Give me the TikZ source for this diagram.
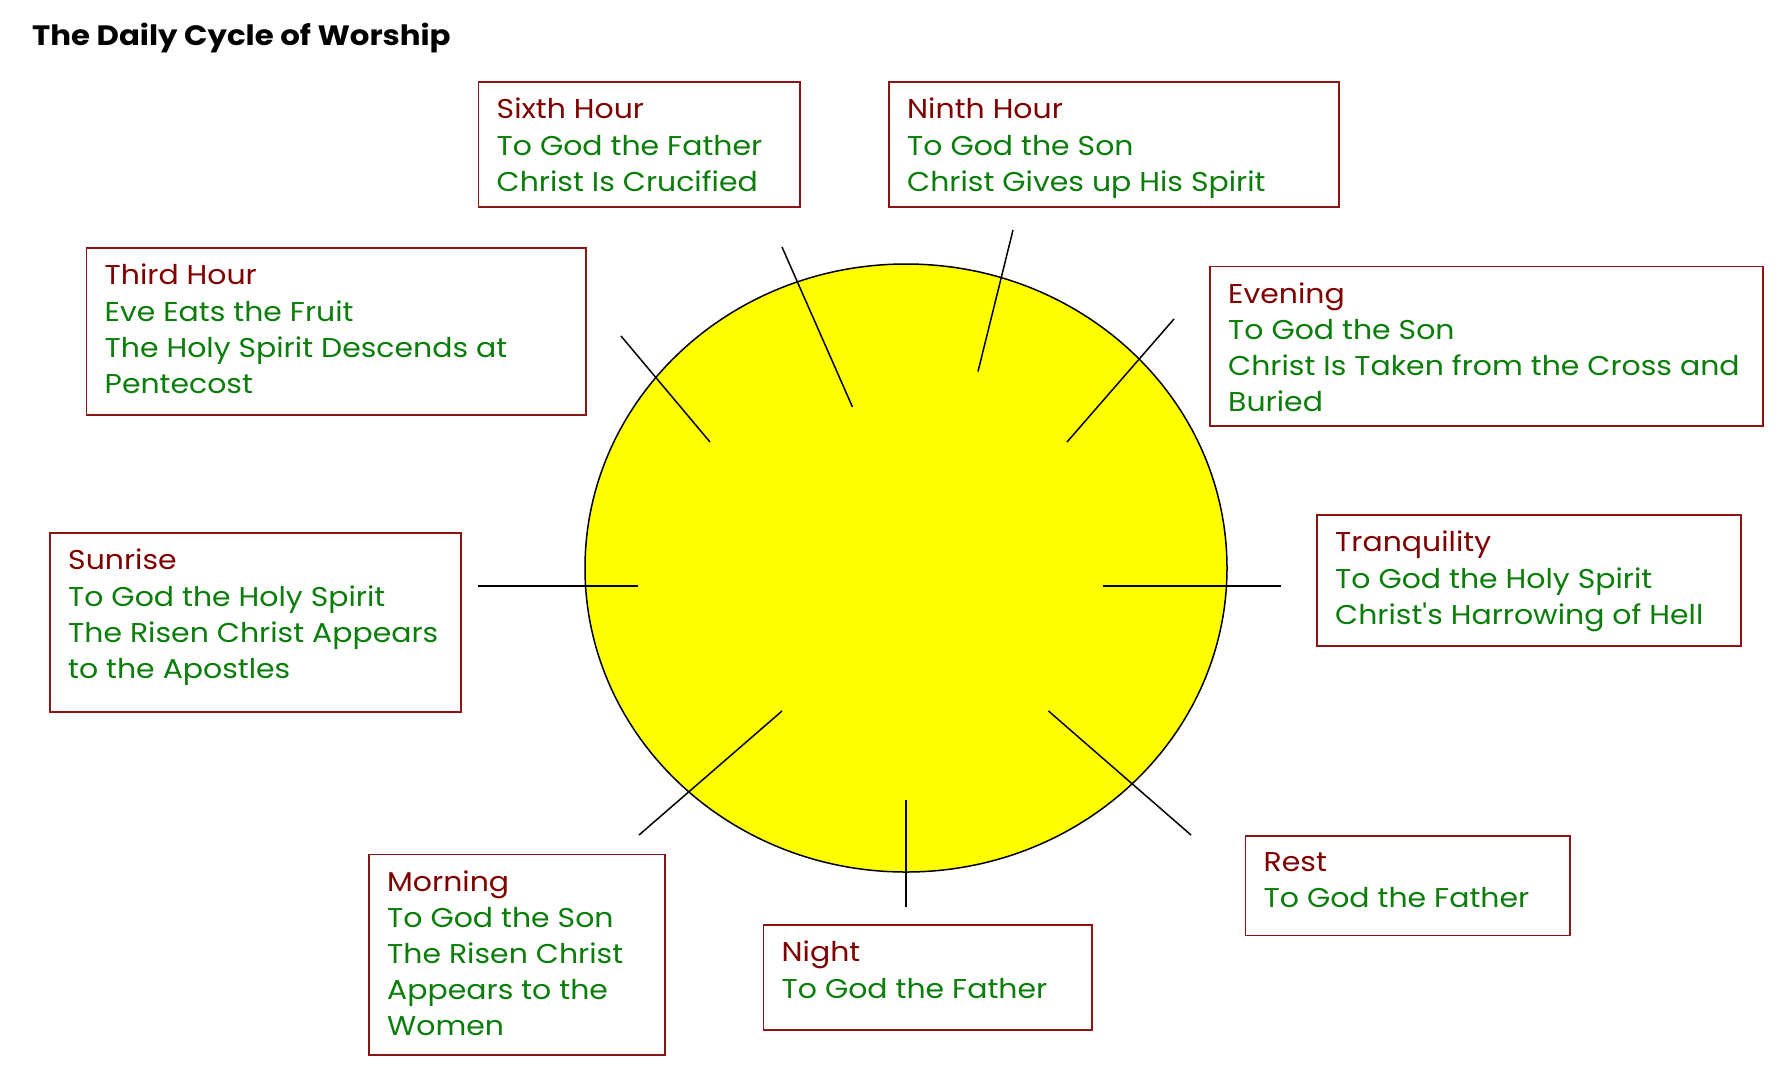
\documentclass[tikz,border=0pt]{standalone}
\usepackage{fontspec}
\usetikzlibrary{shapes.geometric}
\setmainfont{Poppins}[FakeStretch=1.1, Ligatures=TeXOff]
\definecolor{maroonT}{RGB}{128,0,0}
\definecolor{greenT}{RGB}{10,125,10}
\definecolor{boxline}{RGB}{140,20,20}
\definecolor{sunY}{RGB}{255,255,0}
\begin{document}
\begin{tikzpicture}[x=1pt,y=-1pt,
  box/.style={draw=boxline, line width=1.8pt, anchor=north west, inner sep=0pt},
  txt/.style={anchor=north west, inner sep=0pt, align=left, font=\fontsize{27.2}{36.1}\selectfont, text=greenT},
  tick/.style={draw=black, line width=1.5pt}]
\useasboundingbox (0,0) rectangle (1787,1072);
\fill[white] (0,0) rectangle (1787,1072);
\node[anchor=west, inner sep=0pt, font=\fontsize{28}{34}\selectfont\bfseries] (title) at (32,38) {The Daily Cycle of Worship};
% sun
\node[draw=black, line width=1.5pt, fill=sunY, ellipse, minimum width=642pt, minimum height=608pt, inner sep=0pt] (sun) at (906,568) {};
% boxes
\newcommand\tbox[6]{% name, x1,y1,x2,y2, text
  \node[box, minimum width=#4-#2, minimum height=#5-#3] (#1) at (#2,#3) {};
  \node[txt] (#1t) at (#2+19,#3+17) {#6};}
\tbox{sixth}{477.5}{81}{799}{206}{\textcolor{maroonT}{Sixth Hour}\\To God the Father\\Christ Is Crucified}
\tbox{ninth}{888}{81}{1338}{206}{\textcolor{maroonT}{Ninth Hour}\\To God the Son\\Christ Gives up His Spirit}
\tbox{third}{85.5}{247}{585}{414}{\textcolor{maroonT}{Third Hour}\\Eve Eats the Fruit\\The Holy Spirit Descends at\\Pentecost}
\tbox{evening}{1209}{265.5}{1762}{425}{\textcolor{maroonT}{Evening}\\To God the Son\\Christ Is Taken from the Cross and\\Buried}
\tbox{sunrise}{49}{532}{460}{711}{\textcolor{maroonT}{Sunrise}\\To God the Holy Spirit\\The Risen Christ Appears\\to the Apostles}
\tbox{tranq}{1316}{514}{1740}{645}{\textcolor{maroonT}{Tranquility}\\To God the Holy Spirit\\Christ's Harrowing of Hell}
\tbox{morning}{368}{853.6}{664}{1054}{\textcolor{maroonT}{Morning}\\To God the Son\\The Risen Christ\\Appears to the\\Women}
\tbox{night}{762.5}{924}{1090.7}{1029}{\textcolor{maroonT}{Night}\\To God the Father}
\tbox{rest}{1244.5}{835}{1569}{934.5}{\textcolor{maroonT}{Rest}\\To God the Father}
% ticks
\coordinate (s1) at (782,247);   \coordinate (s2) at (852.5,407);
\coordinate (n1) at (1013,230);  \coordinate (n2) at (978,371.5);
\coordinate (t1) at (621,336);   \coordinate (t2) at (710,442);
\coordinate (e1) at (1174,319);  \coordinate (e2) at (1067,442);
\coordinate (r1) at (477.5,586); \coordinate (r2) at (638,586);
\coordinate (q1) at (1103,586);  \coordinate (q2) at (1281,586);
\coordinate (m1) at (639,835);   \coordinate (m2) at (782,711);
\coordinate (g1) at (906,800);   \coordinate (g2) at (906,907);
\coordinate (x1) at (1048.5,711);\coordinate (x2) at (1191,835);
\foreach \a/\b in {s1/s2,n1/n2,t1/t2,e1/e2,r1/r2,q1/q2,m1/m2,g1/g2,x1/x2}
  \draw[tick] (\a) -- (\b);
\end{tikzpicture}
\end{document}
